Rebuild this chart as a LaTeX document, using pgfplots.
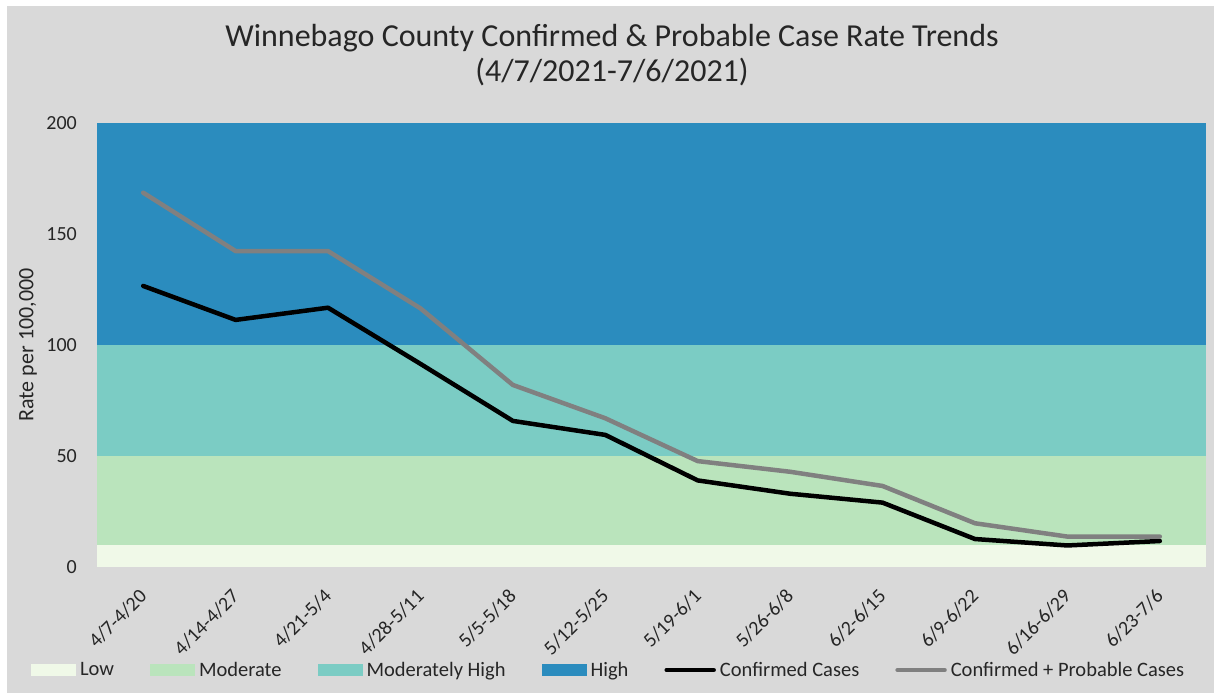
\documentclass[border=0pt]{standalone}
\usepackage{pgfplots}
\pgfplotsset{compat=1.18}
\usepackage{fontspec}
\setmainfont{Carlito}
\definecolor{bgc}{HTML}{D9D9D9}
\definecolor{lowc}{HTML}{F0F9E8}
\definecolor{modc}{HTML}{BAE4BC}
\definecolor{mhc}{HTML}{7BCCC4}
\definecolor{highc}{HTML}{2B8CBE}
\definecolor{txt}{HTML}{262626}
\definecolor{grayline}{HTML}{808080}
\pgfplotsset{
  arealeg/.style={legend image code/.code={\fill[##1] (0pt,-6pt) rectangle (45pt,6pt);}},
  lineleg/.style={legend image code/.code={\draw[##1] (0pt,0pt) -- (47pt,0pt);}},
}
\begin{document}
\begin{tikzpicture}
\useasboundingbox (0pt,0pt) rectangle (1214pt,693pt);
\fill[white] (0pt,0pt) rectangle (1214pt,693pt);
\fill[bgc] (7pt,0pt) rectangle (1214pt,687pt);
\node[anchor=base, inner sep=0pt, text=txt, font=\fontsize{32}{38}\selectfont] at (612pt,646pt) {Winnebago County Confirmed \& Probable Case Rate Trends};
\node[anchor=base, inner sep=0pt, text=txt, font=\fontsize{32}{38}\selectfont] at (612pt,611pt) {(4/7/2021-7/6/2021)};
\begin{axis}[
  at={(97pt,126pt)}, anchor=south west,
  scale only axis, width=1109pt, height=444pt,
  xmin=-0.5, xmax=11.5, ymin=0, ymax=200,
  axis line style={draw=none},
  tick style={draw=none},
  ytick={0,50,100,150,200},
  xtick={0,...,11},
  xticklabels={4/7-4/20,4/14-4/27,4/21-5/4,4/28-5/11,5/5-5/18,5/12-5/25,5/19-6/1,5/26-6/8,6/2-6/15,6/9-6/22,6/16-6/29,6/23-7/6},
  /pgf/number format/assume math mode=true,
  yticklabel style={anchor=east, inner sep=0pt, xshift=-20pt, text=txt, font=\fontsize{20}{24}\selectfont},
  xticklabel style={yshift=-26pt, rotate=45, anchor=east, inner sep=0pt, text=txt, font=\fontsize{20}{24}\selectfont},
  ylabel={Rate per 100,000},
  ylabel style={at={(axis description cs:-0.0622,0.5)}, anchor=center, text=txt, font=\fontsize{22}{26}\selectfont},
  legend columns=6,
  legend style={at={(axis description cs:-0.0595,-0.232)}, anchor=west, draw=none, fill=none,
    inner sep=0pt, outer sep=0pt, text=txt, font=\fontsize{20.5}{24}\selectfont,
    nodes={inner sep=0pt},
    /tikz/every odd column/.append style={column sep=4pt},
    /tikz/every even column/.append style={column sep=36pt}},
  clip=false,
]
\addplot[draw=none, fill=lowc, arealeg] coordinates {(-0.5,0) (11.5,0) (11.5,10) (-0.5,10)} --cycle;
\addlegendentry{Low}
\addplot[draw=none, fill=modc, arealeg] coordinates {(-0.5,10) (11.5,10) (11.5,50) (-0.5,50)} --cycle;
\addlegendentry{Moderate}
\addplot[draw=none, fill=mhc, arealeg] coordinates {(-0.5,50) (11.5,50) (11.5,100) (-0.5,100)} --cycle;
\addlegendentry{Moderately High}
\addplot[draw=none, fill=highc, arealeg] coordinates {(-0.5,100) (11.5,100) (11.5,200) (-0.5,200)} --cycle;
\addlegendentry{High}
\addplot[black, line width=4.5pt, line join=round, line cap=round, mark=none, lineleg] coordinates {
(0,126.6) (1,111.3) (2,116.8) (3,91.5) (4,65.8) (5,59.5) (6,39.0) (7,33.0) (8,29.0) (9,12.6) (10,9.7) (11,11.7)};
\addlegendentry{Confirmed Cases}
\addplot[grayline, line width=4.5pt, line join=round, line cap=round, mark=none, lineleg] coordinates {
(0,168.6) (1,142.3) (2,142.3) (3,116.5) (4,82.0) (5,67.0) (6,47.7) (7,42.9) (8,36.5) (9,19.7) (10,13.7) (11,13.7)};
\addlegendentry{Confirmed + Probable Cases}
\end{axis}
\end{tikzpicture}
\end{document}
